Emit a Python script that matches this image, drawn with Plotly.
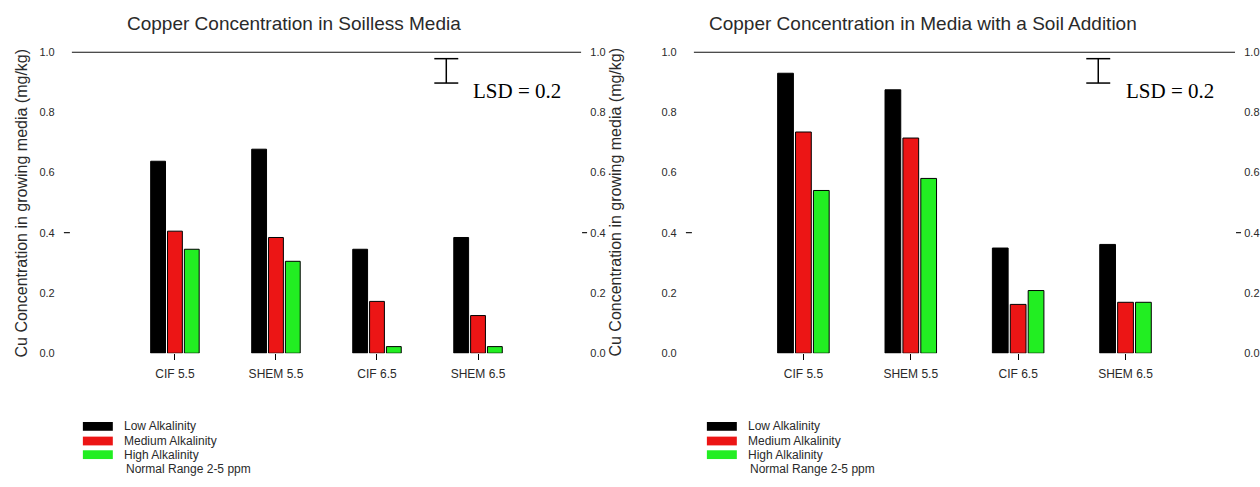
import plotly.graph_objects as go

# ---------------- data ----------------
categories = ["CIF 5.5", "SHEM 5.5", "CIF 6.5", "SHEM 6.5"]
series_names = ["Low Alkalinity", "Medium Alkalinity", "High Alkalinity"]

soilless_low = [0.637, 0.677, 0.345, 0.384]
soilless_medium = [0.405, 0.384, 0.172, 0.125]
soilless_high = [0.345, 0.305, 0.022, 0.022]

soil_low = [0.929, 0.874, 0.349, 0.361]
soil_medium = [0.734, 0.714, 0.162, 0.169]
soil_high = [0.540, 0.580, 0.208, 0.169]

y_ticks = [0.0, 0.2, 0.4, 0.6, 0.8, 1.0]
y_tick_text = ["0.0", "0.2", "0.4", "0.6", "0.8", "1.0"]
normal_range_level = 1.0
lsd_label = "LSD = 0.2"
panel_titles = ["Copper Concentration in Soilless Media",
                "Copper Concentration in Media with a Soil Addition"]
y_title = "Cu Concentration in growing media (mg/kg)"
legend_note = "Normal Range 2-5 ppm"

# ---------------- style ----------------
W, H = 1260, 487
colors = ["#000000", "#ec1515", "#22ee22"]
FONT = "Liberation Sans, Arial, sans-serif"
SERIF = "Liberation Serif, Times New Roman, serif"
TXT = "#2a2a2a"


def px(x):
    return x / W


def py(y):
    return (H - y) / H


panels = [
    dict(x0=72, x1=582, data=[soilless_low, soilless_medium, soilless_high],
         xa="x", ya="y", ya_r="y3", lsd_x=447, lsd_tx=472, leg_x=83, ytitle_x=22,
         title_cx=294),
    dict(x0=695, x1=1237, data=[soil_low, soil_medium, soil_high],
         xa="x2", ya="y2", ya_r="y4", lsd_x=1100, lsd_tx=1126, leg_x=708, ytitle_x=617,
         title_cx=924),
]
y_top, y_bot = 47, 356

fig = go.Figure()
shapes = []
annotations = []

for pi, p in enumerate(panels):
    for si, vals in enumerate(p["data"]):
        fig.add_trace(go.Bar(
            x=categories, y=vals, name=series_names[si],
            marker=dict(color=colors[si], line=dict(color="#000000", width=1)),
            xaxis=p["xa"], yaxis=p["ya"], showlegend=False,
        ))
    # invisible trace to host the right-hand tick label axis
    fig.add_trace(go.Scatter(
        x=[categories[0]], y=[0.5], mode="markers", marker=dict(opacity=0),
        xaxis=p["xa"], yaxis=p["ya_r"], showlegend=False, hoverinfo="skip",
    ))

    xref_dom = ("x" if pi == 0 else "x2") + " domain"
    yref = p["ya"]
    # reference line at top (normal range)
    shapes.append(dict(type="line", xref=xref_dom, yref=yref, x0=0, x1=1,
                       y0=normal_range_level, y1=normal_range_level,
                       line=dict(color="#111111", width=2)))
    # 0.4 tick dashes on both sides
    shapes.append(dict(type="line", xref="paper", yref=yref,
                       x0=px(p["x0"] - 8), x1=px(p["x0"] - 2), y0=0.4, y1=0.4,
                       line=dict(color="#222222", width=1.2)))
    shapes.append(dict(type="line", xref="paper", yref=yref,
                       x0=px(p["x1"] + 1), x1=px(p["x1"] + 6), y0=0.4, y1=0.4,
                       line=dict(color="#222222", width=1.2)))
    # LSD bar
    lx = p["lsd_x"]
    for (a0, a1, b0, b1) in [(lx, lx, 54, 79), (lx - 12, lx + 12, 54, 54),
                             (lx - 12, lx + 12, 79, 79)]:
        shapes.append(dict(type="line", xref="paper", yref="paper",
                           x0=px(a0), x1=px(a1), y0=py(b0), y1=py(b1),
                           line=dict(color="#000000", width=1.5)))
    annotations.append(dict(text=lsd_label, xref="paper", yref="paper",
                            x=px(p["lsd_tx"]), y=py(87), xanchor="left", yanchor="middle",
                            showarrow=False, font=dict(family=SERIF, size=21, color="#000000")))
    # titles
    annotations.append(dict(text=panel_titles[pi], xref="paper", yref="paper",
                            x=px(p["title_cx"]), y=py(18),
                            xanchor="center", yanchor="middle", showarrow=False,
                            font=dict(family=FONT, size=19, color=TXT)))
    # y-axis title
    annotations.append(dict(text=y_title, xref="paper", yref="paper",
                            x=px(p["ytitle_x"]), y=py((y_top + y_bot) / 2),
                            xanchor="center", yanchor="middle", textangle=-90,
                            showarrow=False, font=dict(family=FONT, size=16, color=TXT)))
    # manual legend
    lgx = p["leg_x"]
    rows = [431, 446, 460]
    for si, ry in enumerate(rows):
        shapes.append(dict(type="rect", xref="paper", yref="paper",
                           x0=px(lgx), x1=px(lgx + 30), y0=py(ry - 4.5), y1=py(ry + 4.5),
                           fillcolor=colors[si], line=dict(width=0)))
        annotations.append(dict(text=series_names[si], xref="paper", yref="paper",
                                x=px(lgx + 39), y=py(ry), xanchor="left", yanchor="middle",
                                showarrow=False, font=dict(family=FONT, size=12, color=TXT)))
    annotations.append(dict(text=legend_note, xref="paper", yref="paper",
                            x=px(lgx + 41), y=py(475), xanchor="left", yanchor="middle",
                            showarrow=False, font=dict(family=FONT, size=12, color=TXT)))

ydom = [py(y_bot), py(y_top)]


def xaxis_cfg(p):
    return dict(domain=[px(p["x0"]), px(p["x1"])], type="category",
                range=[-1.02, 4.02], showgrid=False, zeroline=False, showline=False,
                ticks="outside", ticklen=6, tickwidth=1, tickcolor="#000000",
                ticklabelstandoff=3,
                tickfont=dict(family=FONT, size=12, color=TXT), fixedrange=True)


def yaxis_cfg(anchor, side="left", ticklen=13, size=11, overlay=None):
    d = dict(domain=ydom, range=[0, 1], anchor=anchor, side=side,
             tickmode="array", tickvals=y_ticks, ticktext=y_tick_text,
             showgrid=False, zeroline=False, showline=False,
             ticks="outside", ticklen=ticklen, tickcolor="rgba(0,0,0,0)",
             tickfont=dict(family=FONT, size=size, color=TXT), fixedrange=True)
    if overlay:
        d["overlaying"] = overlay
    return d


fig.update_layout(
    width=W, height=H,
    margin=dict(l=0, r=0, t=0, b=0),
    paper_bgcolor="#ffffff", plot_bgcolor="#ffffff",
    barmode="group", bargap=0.5, bargroupgap=0.12,
    xaxis=xaxis_cfg(panels[0]),
    xaxis2=xaxis_cfg(panels[1]),
    yaxis=yaxis_cfg("x", "left", 14, 11),
    yaxis2=yaxis_cfg("x2", "left", 14, 11),
    yaxis3=yaxis_cfg("x", "right", 6, 11, overlay="y"),
    yaxis4=yaxis_cfg("x2", "right", 6, 11, overlay="y2"),
    shapes=shapes,
    annotations=annotations,
    showlegend=False,
)

fig.write_html(
    "out.html",
    config={"displayModeBar": False},
    post_script="document.body.style.margin='0';document.body.style.overflow='hidden';",
)
